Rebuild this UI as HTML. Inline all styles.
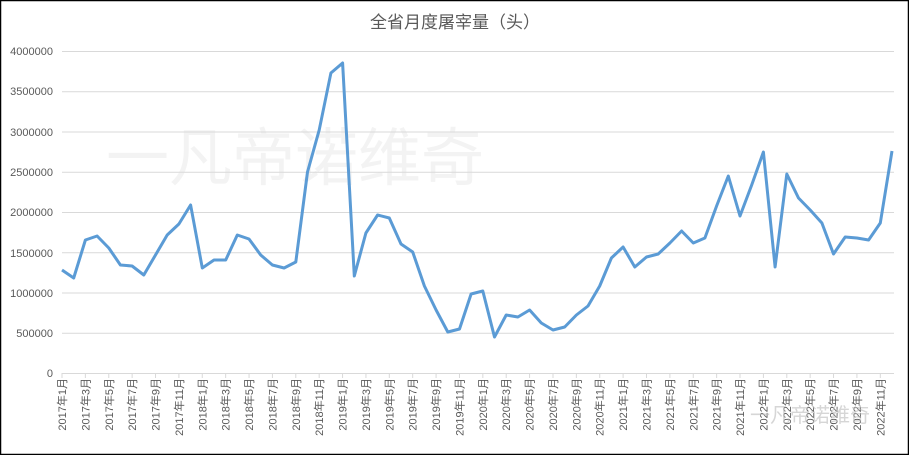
<!DOCTYPE html>
<html><head><meta charset="utf-8"><style>
html,body{margin:0;padding:0;background:#fff}
svg{display:block}
text{font-family:"Liberation Sans","Noto Sans CJK SC",sans-serif;fill:#595959}
</style></head><body>
<svg width="909" height="455" viewBox="0 0 909 455" xmlns="http://www.w3.org/2000/svg">
<rect x="0.5" y="0.5" width="908" height="454" fill="#fff" stroke="#000" stroke-width="1.5"/>
<text x="455" y="28" font-size="17" text-anchor="middle">全省月度屠宰量（头）</text>
<text x="295" y="180" font-size="63" text-anchor="middle" style="fill:#f3f3f3">一凡帝诺维奇</text>
<g stroke="#d9d9d9" stroke-width="1">
<line x1="62" x2="894" y1="51.5" y2="51.5"/>
<line x1="62" x2="894" y1="91.8" y2="91.8"/>
<line x1="62" x2="894" y1="132" y2="132"/>
<line x1="62" x2="894" y1="172.3" y2="172.3"/>
<line x1="62" x2="894" y1="212.5" y2="212.5"/>
<line x1="62" x2="894" y1="252.8" y2="252.8"/>
<line x1="62" x2="894" y1="293" y2="293"/>
<line x1="62" x2="894" y1="333.3" y2="333.3"/>
<line x1="62" x2="894" y1="373.5" y2="373.5"/>
</g>
<g font-size="11" text-anchor="end">
<text x="53" y="55">4000000</text>
<text x="53" y="95">3500000</text>
<text x="53" y="136">3000000</text>
<text x="53" y="176">2500000</text>
<text x="53" y="216">2000000</text>
<text x="53" y="257">1500000</text>
<text x="53" y="297">1000000</text>
<text x="53" y="337">500000</text>
<text x="53" y="377">0</text>
</g>
<g id="ticks" stroke="#d9d9d9"></g>
<g id="labels" font-size="11" text-anchor="end"></g>
<polyline id="line" fill="none" stroke="#5b9bd5" stroke-width="3" stroke-linejoin="round"/>
<text x="810" y="422" font-size="20" text-anchor="middle" style="fill:#bbb;opacity:0.6">一凡帝诺维奇</text>
</svg>
<script>
var ys=[270,278,240,236,248,265,266,275,255,235,224,205,268,260,260,235,239,255,265,268,262,172,130,73,63,276,233,215,218,244,252,286,310,332,329,294,291,337,315,317,310,323,330,327,315,306,286,258,247,267,257,254,243,231,243,238,206,176,216,185,152,267,174,198,210,223,254,237,238,240,223,151];
var pts=ys.map(function(y,i){return (62+11.69*i).toFixed(1)+","+y}).join(" ");
document.getElementById("line").setAttribute("points",pts);
var t="",l="";
for(var i=0;i<72;i+=2){var x=62+11.69*i;var yr=2017+Math.floor(i/12),m=i%12+1;
t+='<line x1="'+x+'" x2="'+x+'" y1="373" y2="378"/>';
l+='<text transform="translate('+(x+4)+',378) rotate(-90)">'+yr+'年'+m+'月</text>';}
document.getElementById("ticks").innerHTML=t;
document.getElementById("labels").innerHTML=l;
</script>
</body></html>
